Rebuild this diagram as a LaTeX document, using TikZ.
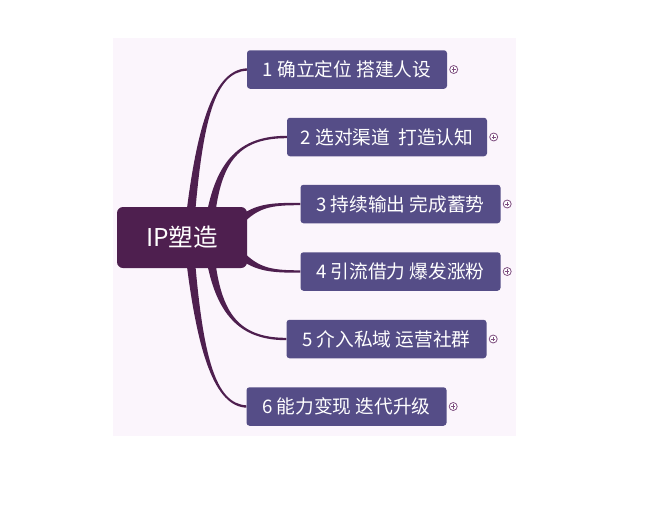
\documentclass[tikz,border=0pt]{standalone}
\usepackage{fontspec}
\setmainfont{Noto Sans CJK SC}
\usetikzlibrary{calc}
\pgfdeclarelayer{bg}
\pgfsetlayers{bg,main}
\definecolor{bgpink}{HTML}{FBF5FC}
\definecolor{rootcol}{HTML}{4E1F4F}
\definecolor{branchcol}{HTML}{554D87}
\definecolor{expcol}{HTML}{7E4E80}
\tikzset{
  x=1pt, y=-1pt,
  rootbox/.style={fill=rootcol, rounded corners=6pt, minimum width=130pt, minimum height=61pt, text=white, font=\fontsize{24.5}{28}\selectfont, inner sep=0pt},
  branchbox/.style={fill=branchcol, rounded corners=3pt, minimum width=200pt, minimum height=38.5pt, text=white, font=\fontsize{18.7}{22}\selectfont, inner sep=0pt},
  conn/.style={fill=rootcol},
  expander/.style={circle, draw=expcol, line width=0.8pt, fill=white, minimum size=8pt, inner sep=0pt,
    path picture={\draw[expcol, line width=0.7pt] ($(path picture bounding box.center)+(-2.2,0)$) -- ($(path picture bounding box.center)+(2.2,0)$) ($(path picture bounding box.center)+(0,-2.2)$) -- ($(path picture bounding box.center)+(0,2.2)$);}}
}
\newcommand\taper[6]{%
  \fill[conn] ($(#1)+(#5)$) .. controls ($(#2)+0.6*(#5)$) and ($(#3)+(#6)$) .. ($(#4)+(#6)$) -- ($(#4)-(#6)$) .. controls ($(#3)-(#6)$) and ($(#2)-0.6*(#5)$) .. ($(#1)-(#5)$) -- cycle;}
\begin{document}
\begin{tikzpicture}
\useasboundingbox (0,0) rectangle (668,517);
\begin{pgfonlayer}{bg}
\fill[white] (0,0) rectangle (668,517);
\fill[bgpink] (113,38) rectangle (516,436);
\end{pgfonlayer}
% nodes
\node[rootbox] (c) at (182,237.5) {IP塑造};
\node[branchbox] (n1) at (347,69.5) {1 确立定位 搭建人设};
\node[branchbox] (n2) at (387,137) {2 选对渠道\ \ 打造认知};
\node[branchbox] (n3) at (400.5,204) {3 持续输出 完成蓄势};
\node[branchbox] (n4) at (400.5,271.5) {4 引流借力 爆发涨粉};
\node[branchbox] (n5) at (386.5,339) {5 介入私域 运营社群};
\node[branchbox] (n6) at (346.5,406.5) {6 能力变现 迭代升级};
% start points of connectors
\coordinate (s1) at ($(c.center)+(8,-17)$);
\coordinate (s2) at ($(c.center)+(28,-17)$);
\coordinate (s3) at ($(c.center)+(53,-12)$);
\coordinate (s4) at ($(c.center)+(53,12)$);
\coordinate (s5) at ($(c.center)+(28,17)$);
\coordinate (s6) at ($(c.center)+(8,17)$);
% connectors
\begin{pgfonlayer}{bg}
\taper{s1}{200,120}{215,71}{n1.west}{-4.5,0}{0,-1.2}
\taper{s2}{218,160}{240,137}{n2.west}{-4.5,0}{0,-1.2}
\taper{s3}{255,205}{270,204}{n3.west}{-3.2,-3.2}{0,-1.2}
\taper{s4}{255,270}{270,271.5}{n4.west}{-3.2,3.2}{0,1.2}
\taper{s5}{218,315}{240,339}{n5.west}{-4.5,0}{0,1.2}
\taper{s6}{200,355}{215,405}{n6.west}{-4.5,0}{0,1.2}
\end{pgfonlayer}
% expanders
\node[expander] (e1) at ($(n1.east)+(6.5,0)$) {};
\node[expander] (e2) at ($(n2.east)+(6.5,0)$) {};
\node[expander] (e3) at ($(n3.east)+(6.5,0)$) {};
\node[expander] (e4) at ($(n4.east)+(6.5,0)$) {};
\node[expander] (e5) at ($(n5.east)+(6.5,0)$) {};
\node[expander] (e6) at ($(n6.east)+(6.5,0)$) {};
\end{tikzpicture}
\end{document}
